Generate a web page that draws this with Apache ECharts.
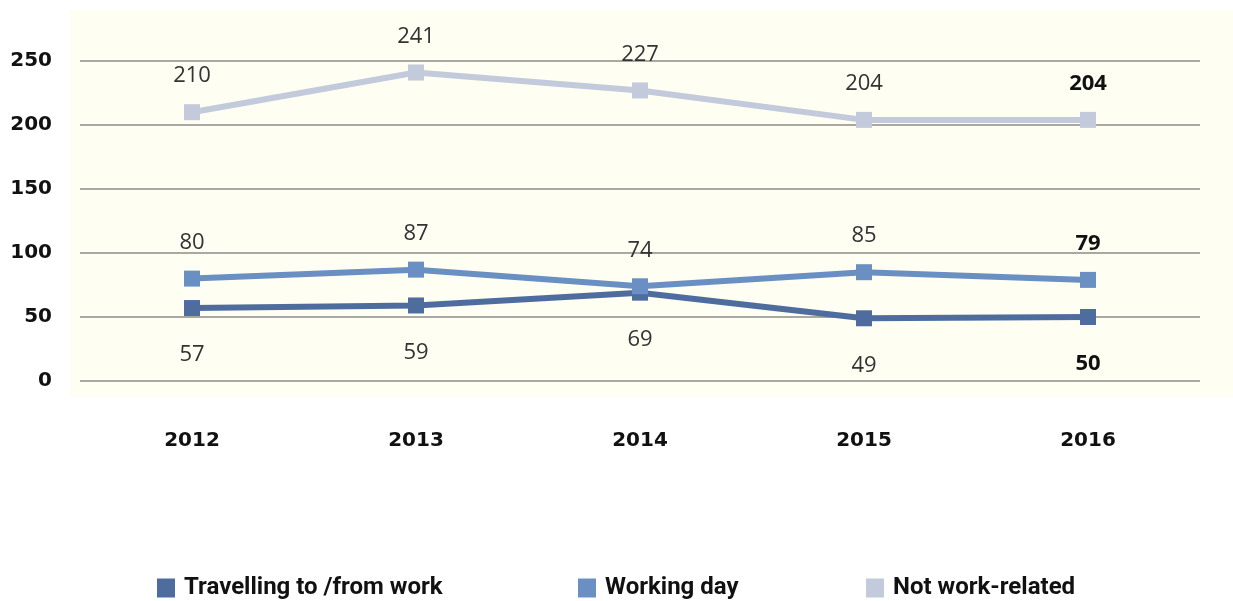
<!DOCTYPE html>
<html>
<head>
<meta charset="utf-8">
<script src="https://cdn.jsdelivr.net/npm/echarts@6/dist/echarts.min.js"></script>
<style>
  html, body { margin: 0; padding: 0; background: #ffffff; }
  #chart { width: 1233px; height: 601px; }
</style>
</head>
<body>
<div id="chart"></div>
<script>
// Road accident figures by year and journey type
const years = ['2012', '2013', '2014', '2015', '2016'];
const travelling = [57, 59, 69, 49, 50];
const workingDay = [80, 87, 74, 85, 79];
const notWorkRelated = [210, 241, 227, 204, 204];
const seriesNames = ['Travelling to /from work', 'Working day', 'Not work-related'];

const colors = ['#4e6d9e', '#6a8fc2', '#c2cadc'];
const labelFont = '"Open Sans", "DejaVu Sans", sans-serif';
const axisFont = '"DejaVu Sans", sans-serif';
const legendFont = 'Roboto, "Liberation Sans", sans-serif';

// Last point of every series gets a bold label
function withBoldLast(values) {
  return values.map((v, i) => i === values.length - 1
    ? { value: v, label: { fontWeight: 'bold', color: '#111' } }
    : v);
}

function lineSeries(name, values, color, pos, dist) {
  return {
    name: name,
    type: 'line',
    data: withBoldLast(values),
    symbol: 'rect',
    symbolSize: 16,
    lineStyle: { color: color, width: 6 },
    itemStyle: { color: color },
    label: {
      show: true,
      position: pos,
      distance: dist,
      fontFamily: labelFont,
      fontSize: 22,
      color: '#333'
    },
    emphasis: { disabled: true },
    animation: false
  };
}

// One legend block per series, placed individually along the bottom
const legendLefts = [152, 573, 861];
const legends = seriesNames.map((name, i) => ({
  top: 571,
  left: legendLefts[i],
  itemWidth: 18,
  itemHeight: 19,
  itemGap: 0,
  icon: 'rect',
  data: [name],
  selectedMode: false,
  textStyle: {
    fontFamily: legendFont,
    fontWeight: 'bold',
    fontSize: 24,
    color: '#111',
    padding: [0, 0, 0, 4]
  }
}));

const chart = echarts.init(document.getElementById('chart'));
chart.setOption({
  backgroundColor: '#ffffff',
  graphic: [{
    type: 'rect',
    z: -10,
    shape: { x: 70, y: 10, width: 1163, height: 387 },
    style: { fill: '#fefef3' }
  }],
  grid: { left: 80, right: 33, top: 61, bottom: 220, containLabel: false },
  xAxis: {
    type: 'category',
    data: years,
    boundaryGap: true,
    axisLine: { show: false },
    axisTick: { show: false },
    axisLabel: {
      margin: 50,
      fontFamily: axisFont,
      fontWeight: 'bold',
      fontSize: 20,
      color: '#111'
    }
  },
  yAxis: {
    type: 'value',
    min: 0,
    max: 250,
    interval: 50,
    axisLine: { show: false },
    axisTick: { show: false },
    splitLine: { lineStyle: { color: '#a9a9a1', width: 2 } },
    axisLabel: {
      margin: 28,
      fontFamily: axisFont,
      fontWeight: 'bold',
      fontSize: 20,
      color: '#111'
    }
  },
  legend: legends,
  series: [
    lineSeries(seriesNames[0], travelling, colors[0], 'bottom', 28),
    lineSeries(seriesNames[1], workingDay, colors[1], 'top', 17),
    lineSeries(seriesNames[2], notWorkRelated, colors[2], 'top', 17)
  ]
});
</script>
</body>
</html>
